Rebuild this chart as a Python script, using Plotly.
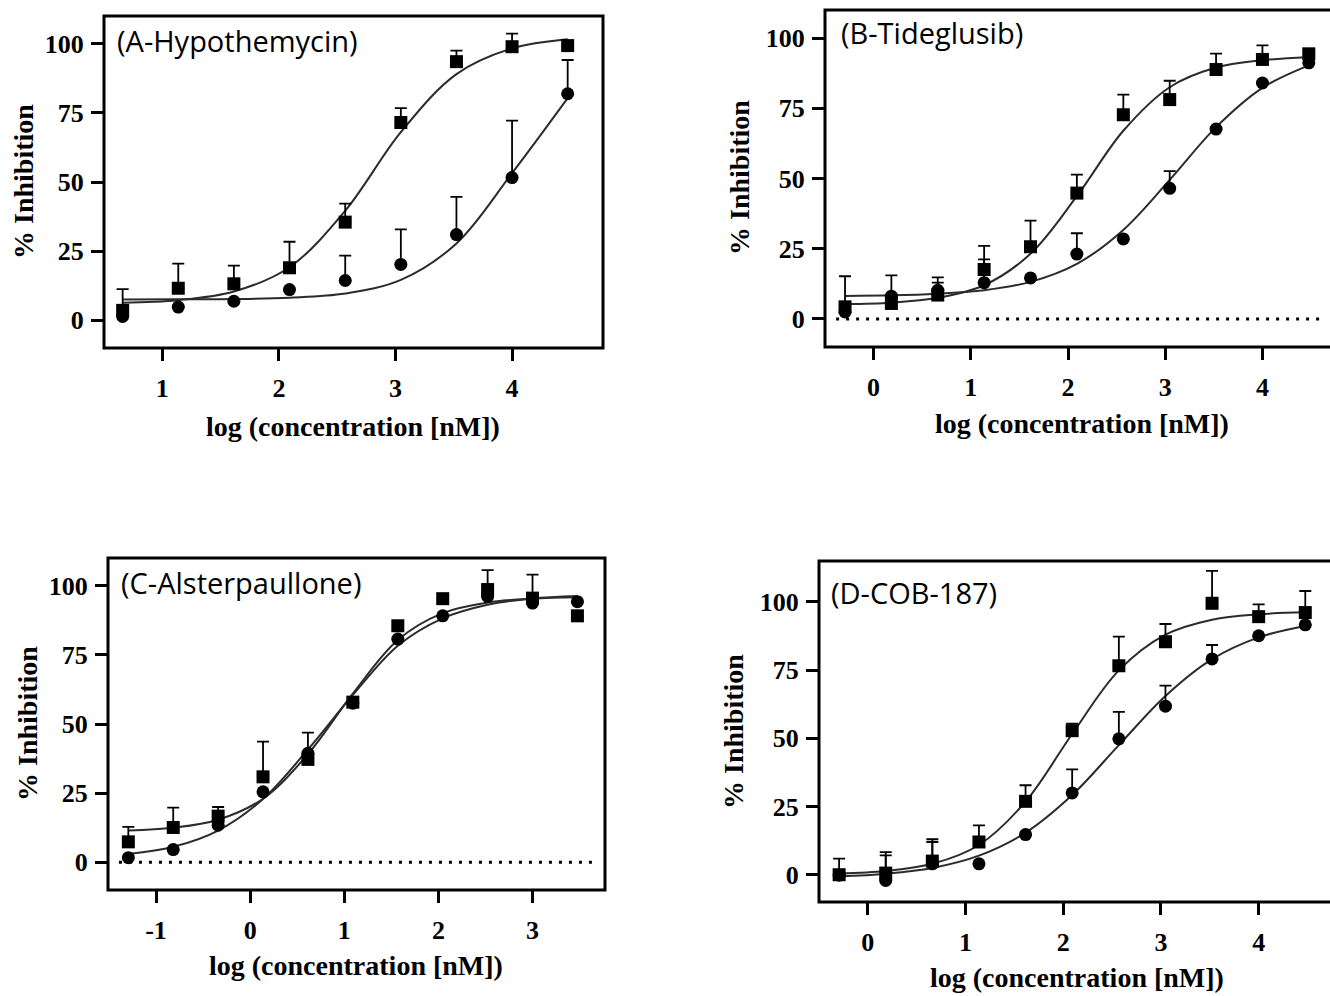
import plotly.graph_objects as go

W, H = 1330, 996

# ---------------- data ----------------
# Panel A - Hypothemycin
A_x = [0.660, 1.137, 1.614, 2.091, 2.569, 3.046, 3.523, 4.000, 4.477]
A_sq = [3.6, 11.6, 13.2, 19.0, 35.5, 71.5, 93.5, 98.9, 99.3]
A_sq_err = [7.7, 8.9, 6.6, 9.4, 6.7, 5.2, 4.0, 4.7, 0]
A_ci = [1.4, 4.8, 6.9, 11.1, 14.4, 20.2, 31.0, 51.6, 81.9]
A_ci_err = [0, 0, 0, 0, 9.0, 12.7, 13.6, 20.6, 12.2]
A_sq_fit = [6.4, 7.3, 10.4, 19.2, 39.6, 68.0, 89.0, 98.3, 101.6]
A_ci_fit = [7.5, 7.6, 7.7, 8.2, 9.7, 14.6, 27.8, 53.2, 80.3]

# Panel B - Tideglusib
B_x = [-0.294, 0.183, 0.660, 1.137, 1.614, 2.091, 2.569, 3.046, 3.523, 4.000, 4.477]
B_sq = [4.3, 5.5, 8.5, 17.6, 25.7, 44.8, 72.7, 78.1, 88.8, 92.4, 94.4]
B_sq_err = [10.9, 10.0, 6.3, 8.4, 9.3, 6.6, 7.2, 6.7, 5.7, 5.0, 0]
B_ci = [2.5, 8.1, 10.2, 12.9, 14.6, 23.1, 28.5, 46.5, 67.6, 84.0, 91.2]
B_ci_err = [0, 0, 2.7, 8.3, 0, 7.4, 0, 6.1, 0, 0, 0]
B_sq_fit = [5.3, 5.8, 7.5, 12.0, 23.2, 43.7, 67.0, 82.5, 89.5, 92.1, 93.3]
B_ci_fit = [8.2, 8.4, 9.0, 10.2, 13.2, 19.6, 31.7, 49.5, 68.3, 82.3, 90.3]

# Panel C - Alsterpaullone
C_x = [-1.294, -0.817, -0.340, 0.137, 0.614, 1.091, 1.569, 2.046, 2.523, 3.000, 3.477]
C_sq = [7.4, 12.6, 16.7, 30.9, 37.2, 57.9, 85.5, 95.3, 98.6, 95.5, 89.1]
C_sq_err = [5.4, 7.2, 3.3, 12.7, 9.7, 0, 0, 0, 7.0, 8.5, 0]
C_ci = [1.7, 4.6, 13.4, 25.5, 39.4, 57.5, 80.7, 89.1, 96.1, 93.7, 94.2]
C_ci_err = [0, 0, 0, 0, 0, 0, 0, 0, 1.5, 3.0, 0]
C_sq_fit = [11.5, 12.5, 15.4, 23.0, 39.1, 61.0, 80.4, 90.1, 93.9, 95.3, 95.8]
C_ci_fit = [3.0, 5.6, 11.5, 22.9, 40.8, 60.5, 78.3, 88.2, 93.1, 95.4, 96.3]

# Panel D - COB-187
D_x = [-0.294, 0.183, 0.660, 1.137, 1.614, 2.091, 2.569, 3.046, 3.523, 4.000, 4.477]
D_sq = [0.0, 0.6, 5.0, 12.0, 26.9, 52.8, 76.6, 85.4, 99.5, 94.6, 96.1]
D_sq_err = [5.9, 7.7, 8.0, 6.1, 5.9, 2.6, 10.7, 6.5, 11.9, 4.5, 7.9]
D_ci = [-0.2, -2.1, 4.0, 4.0, 14.7, 30.0, 49.8, 61.8, 79.1, 87.6, 91.6]
D_ci_err = [0, 9.2, 8.0, 0, 0, 8.6, 9.9, 7.5, 5.1, 0, 0]
D_sq_fit = [0.5, 1.4, 4.0, 10.9, 26.8, 51.6, 74.9, 88.0, 93.5, 95.5, 96.2]
D_ci_fit = [-0.6, 0.4, 2.5, 7.0, 15.4, 29.2, 47.5, 65.5, 79.0, 87.0, 91.2]

Y_TICKS = [0, 25, 50, 75, 100]
A_XTICKS = [1, 2, 3, 4]
B_XTICKS = [0, 1, 2, 3, 4]
C_XTICKS = [-1, 0, 1, 2, 3]
D_XTICKS = [0, 1, 2, 3, 4]
C_XTICKTEXT = ["-1", "0", "1", "2", "3"]

LABELS = ["(A-Hypothemycin)", "(B-Tideglusib)", "(C-Alsterpaullone)", "(D-COB-187)"]
X_TITLE = "log (concentration [nM])"
Y_TITLE = "% Inhibition"

# ---------------- layout geometry (pixels) ----------------
panels = [
    dict(key="", box=(104, 603, 16, 348), xr=[0.5, 4.78], yr=[-10, 110],
         x=A_x, sq=A_sq, sqe=A_sq_err, ci=A_ci, cie=A_ci_err, sqf=A_sq_fit, cif=A_ci_fit,
         xt=A_XTICKS, xtt=[str(v) for v in A_XTICKS], dotted=False, label=LABELS[0],
         lab=(115, 40), ytitle=(23, 182), xtitle=(353, 426), clipR=False),
    dict(key="2", box=(825, 1330, 10, 347), xr=[-0.5, 4.695], yr=[-10, 110],
         x=B_x, sq=B_sq, sqe=B_sq_err, ci=B_ci, cie=B_ci_err, sqf=B_sq_fit, cif=B_ci_fit,
         xt=B_XTICKS, xtt=[str(v) for v in B_XTICKS], dotted=True, label=LABELS[1],
         lab=(839, 33), ytitle=(739, 178), xtitle=(1082, 424), clipR=True),
    dict(key="3", box=(108, 605, 558, 890), xr=[-1.51, 3.77], yr=[-10, 110],
         x=C_x, sq=C_sq, sqe=C_sq_err, ci=C_ci, cie=C_ci_err, sqf=C_sq_fit, cif=C_ci_fit,
         xt=C_XTICKS, xtt=C_XTICKTEXT, dotted=True, label=LABELS[2],
         lab=(119, 582), ytitle=(27, 724), xtitle=(356, 965), clipR=False),
    dict(key="4", box=(819, 1330, 561, 902), xr=[-0.5, 4.73], yr=[-10, 115],
         x=D_x, sq=D_sq, sqe=D_sq_err, ci=D_ci, cie=D_ci_err, sqf=D_sq_fit, cif=D_ci_fit,
         xt=D_XTICKS, xtt=[str(v) for v in D_XTICKS], dotted=False, label=LABELS[3],
         lab=(829, 592), ytitle=(733, 731), xtitle=(1077, 977), clipR=True),
]

SERIF = "Liberation Serif"
SANS = "Open Sans"
TICKFONT = dict(family=SERIF, size=26, color="black", weight="bold")
TITLEFONT = dict(family=SERIF, size=28, color="black", weight="bold")

fig = go.Figure()
shapes = []
annotations = []
layout_axes = {}


def px_x(p):
    return p / W


def px_y(p):
    return 1 - p / H


for P in panels:
    k = P["key"]
    xa, ya = "x" + k, "y" + k
    l, r, t, b = P["box"]

    # fitted curves
    for yfit in (P["cif"], P["sqf"]):
        fig.add_trace(go.Scatter(x=P["x"], y=yfit, mode="lines",
                                 line=dict(color="#2b2b2b", width=2, shape="spline", smoothing=1.0),
                                 xaxis=xa, yaxis=ya, hoverinfo="skip", showlegend=False))
    # data points with upward SD bars
    n = len(P["x"])
    fig.add_trace(go.Scatter(x=P["x"], y=P["ci"], mode="markers",
                             marker=dict(symbol="circle", size=13, color="black", line=dict(width=0)),
                             error_y=dict(type="data", symmetric=False, array=P["cie"], arrayminus=[0] * n,
                                          color="black", thickness=1.8, width=6),
                             xaxis=xa, yaxis=ya, showlegend=False))
    fig.add_trace(go.Scatter(x=P["x"], y=P["sq"], mode="markers",
                             marker=dict(symbol="square", size=13, color="black", line=dict(width=0)),
                             error_y=dict(type="data", symmetric=False, array=P["sqe"], arrayminus=[0] * n,
                                          color="black", thickness=1.8, width=6),
                             xaxis=xa, yaxis=ya, showlegend=False))

    layout_axes["xaxis" + k] = dict(
        domain=[px_x(l), px_x(r)], range=P["xr"], anchor=ya,
        showgrid=False, zeroline=False, showline=False,
        ticks="outside", ticklen=12, tickwidth=2.5, tickcolor="black",
        tickvals=P["xt"], ticktext=P["xtt"], tickfont=TICKFONT,
        ticklabelstandoff=5, fixedrange=True)
    layout_axes["yaxis" + k] = dict(
        domain=[px_y(b), px_y(t)], range=P["yr"], anchor=xa,
        showgrid=False, zeroline=False, showline=False,
        ticks="outside", ticklen=12, tickwidth=2.5, tickcolor="black",
        tickvals=Y_TICKS, tickfont=TICKFONT, ticklabelstandoff=2, fixedrange=True)

    # frame
    shapes.append(dict(type="rect", xref=xa + " domain", yref=ya + " domain",
                       x0=0, x1=1.06 if P["clipR"] else 1, y0=0, y1=1,
                       line=dict(color="black", width=3), layer="above"))
    # dotted zero line
    if P["dotted"]:
        shapes.append(dict(type="line", xref=xa + " domain", yref=ya,
                           x0=0.022, x1=0.985, y0=0, y1=0,
                           line=dict(color="black", width=3, dash="3px,7px"), layer="below"))

    # panel label
    annotations.append(dict(text=P["label"], xref="paper", yref="paper",
                            x=px_x(P["lab"][0]), y=px_y(P["lab"][1]),
                            xanchor="left", yanchor="middle", showarrow=False,
                            font=dict(family=SANS, size=29, color="black")))
    # axis titles
    annotations.append(dict(text=Y_TITLE, xref="paper", yref="paper",
                            x=px_x(P["ytitle"][0]), y=px_y(P["ytitle"][1]),
                            xanchor="center", yanchor="middle", textangle=-90, showarrow=False,
                            font=TITLEFONT))
    annotations.append(dict(text=X_TITLE, xref="paper", yref="paper",
                            x=px_x(P["xtitle"][0]), y=px_y(P["xtitle"][1]),
                            xanchor="center", yanchor="middle", showarrow=False,
                            font=TITLEFONT))

fig.update_layout(
    width=W, height=H,
    margin=dict(l=0, r=0, t=0, b=0),
    paper_bgcolor="white", plot_bgcolor="white",
    showlegend=False,
    shapes=shapes, annotations=annotations,
    **layout_axes,
)

fig.write_html("out.html")
